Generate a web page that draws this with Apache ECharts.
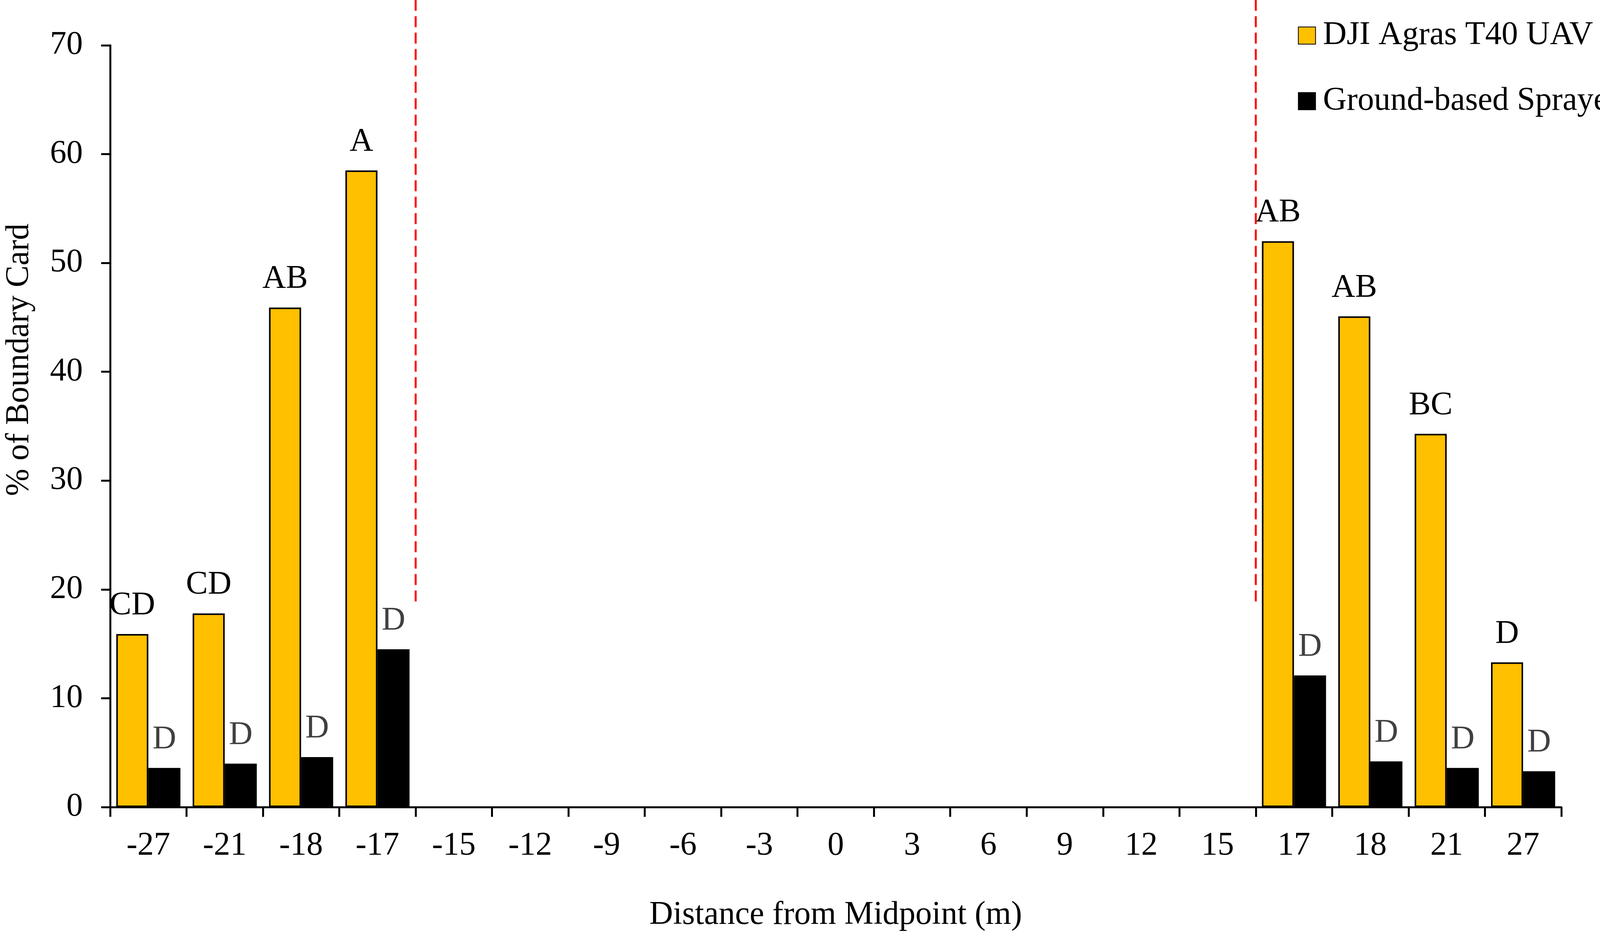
<!DOCTYPE html>
<html>
<head>
<meta charset="utf-8">
<script src="https://cdn.jsdelivr.net/npm/echarts@6/dist/echarts.min.js"></script>
<style>
    html, body { margin: 0; padding: 0; background: #fff; overflow: hidden; }
    #main { width: 100vw; height: 100vh; }
</style>
</head>
<body>
<div id="main"></div>
<script>
// data
var distances = ['-27', '-21', '-18', '-17', '-15', '-12', '-9', '-6', '-3', '0', '3', '6', '9', '12', '15', '17', '18', '21', '27'];
var uavValues = [15.9, 17.8, 45.9, 58.5, null, null, null, null, null, null, null, null, null, null, null, 52.0, 45.1, 34.3, 13.3];
var groundValues = [3.6, 4.0, 4.6, 14.5, null, null, null, null, null, null, null, null, null, null, null, 12.1, 4.2, 3.6, 3.3];
var uavLetters = ['CD', 'CD', 'AB', 'A', '', '', '', '', '', '', '', '', '', '', '', 'AB', 'AB', 'BC', 'D'];
var groundLetters = ['D', 'D', 'D', 'D', '', '', '', '', '', '', '', '', '', '', '', 'D', 'D', 'D', 'D'];
var yTicks = [0, 10, 20, 30, 40, 50, 60, 70];
// dashed dividers sit on category boundaries (count of categories to the left)
var dividerPositions = [4, 15];
var dividerSpan = [18.9, 74.2];

var serif = 'Liberation Serif';
var myChart = echarts.init(document.getElementById('main'));

var labelText = function (letters) {
    return function (p) { return letters[p.dataIndex]; };
};

var series = [
    {
        name: 'DJI Agras T40 UAV',
        type: 'bar',
        data: uavValues,
        barGap: '0%',
        barCategoryGap: '16%',
        itemStyle: {color: '#FFC000', borderColor: '#000', borderWidth: 4},
        label: {
            show: true,
            position: 'top',
            distance: 30,
            fontFamily: serif,
            fontSize: 84,
            color: '#000',
            formatter: labelText(uavLetters)
        }
    },
    {
        name: 'Ground-based Sprayer',
        type: 'bar',
        data: groundValues,
        itemStyle: {color: '#000', borderColor: '#000', borderWidth: 2},
        label: {
            show: true,
            position: 'top',
            distance: 30,
            fontFamily: serif,
            fontSize: 84,
            color: '#404040',
            formatter: labelText(groundLetters)
        }
    }
];

// red dashed dividers, drawn on a hidden value axis laid over the categories
dividerPositions.forEach(function (p, i) {
    series.push({
        name: 'divider' + i,
        type: 'line',
        xAxisIndex: 1,
        data: [[p, dividerSpan[0]], [p, dividerSpan[1]]],
        symbol: 'none',
        clip: false,
        silent: true,
        z: 5,
        lineStyle: {color: '#FF0000', type: [28, 14], width: 5}
    });
});

var option = {
    backgroundColor: '#fff',
    animation: false,
    textStyle: {fontFamily: serif},
    legend: {
        orient: 'vertical',
        left: '81%',
        top: 44,
        itemWidth: 44,
        itemHeight: 44,
        itemGap: 84,
        icon: 'rect',
        textStyle: {fontFamily: serif, fontSize: 84, color: '#000', padding: [0, 0, 0, 14]},
        data: ['DJI Agras T40 UAV', 'Ground-based Sprayer']
    },
    grid: {left: '6.45%', right: '2.42%', top: '4.84%', bottom: '13.77%'},
    xAxis: [{
        type: 'category',
        data: distances,
        name: 'Distance from Midpoint (m)',
        nameLocation: 'middle',
        nameGap: 235,
        nameTextStyle: {fontFamily: serif, fontSize: 84, color: '#000'},
        axisLine: {lineStyle: {color: '#000', width: 5}},
        axisTick: {show: true, length: 25, lineStyle: {color: '#000', width: 5}},
        axisLabel: {fontFamily: serif, fontSize: 84, color: '#000', margin: 58},
        splitLine: {show: false}
    }, {
        type: 'value',
        min: 0,
        max: distances.length,
        show: false
    }],
    yAxis: {
        type: 'value',
        min: yTicks[0],
        max: yTicks[yTicks.length - 1],
        interval: 10,
        name: '% of Boundary Card',
        nameLocation: 'middle',
        nameGap: 190,
        nameTextStyle: {fontFamily: serif, fontSize: 84, color: '#000', padding: [0, 0, 0, 340]},
        axisLine: {show: true, lineStyle: {color: '#000', width: 5}},
        axisTick: {show: true, length: 23, lineStyle: {color: '#000', width: 5}},
        axisLabel: {fontFamily: serif, fontSize: 84, color: '#000', margin: 70},
        splitLine: {show: false}
    },
    series: series
};

myChart.setOption(option);
window.onresize = myChart.resize;
</script>
</body>
</html>
